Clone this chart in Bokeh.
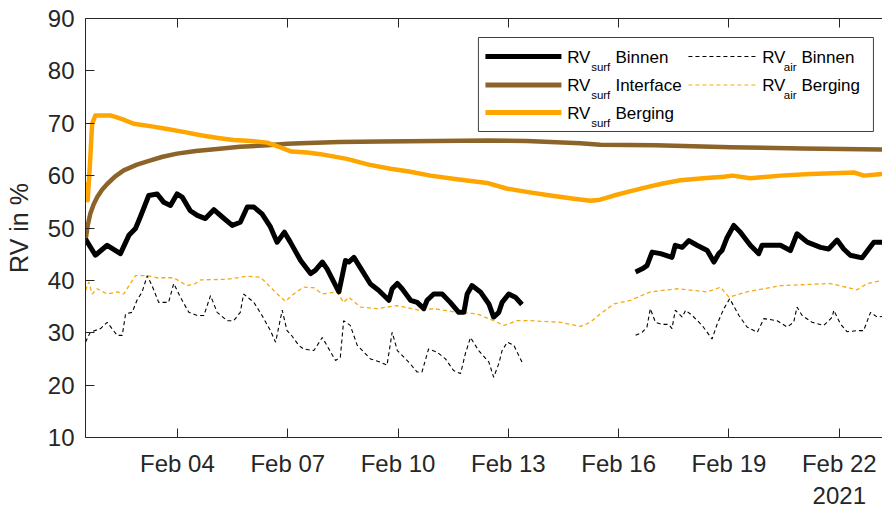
import math
import pandas as pd
from bokeh.plotting import figure
from bokeh.models import Range1d, FixedTicker, DatetimeTickFormatter, DatetimeAxis
from bokeh.core.properties import value
from bokeh.embed import file_html
from bokeh.resources import INLINE

NAN = float("nan")

# Day of February 2021 (fractional) and relative humidity in %
surf_binnen_day = [1.50, 1.77, 2.09, 2.45, 2.68, 2.86, 2.99, 3.22, 3.45, 3.63, 3.81, 3.99, 4.13,
                   4.35, 4.54, 4.76, 4.99, 5.22, 5.49, 5.71, 5.90, 6.08, 6.30, 6.53, 6.71, 6.91,
                   7.07, 7.35, 7.62, 7.75, 7.94, 8.07, 8.39, 8.57, 8.66, 8.80, 9.02, 9.25, 9.47,
                   9.75, 9.84, 9.98, 10.11, 10.34, 10.52, 10.70, 10.79, 10.97, 11.20, 11.42, 11.65,
                   11.79, 11.88, 12.01, 12.24, 12.47, 12.60, 12.74, 12.83, 13.01, 13.19, 13.37,
                   14.90,
                   16.46, 16.64, 16.77, 16.91, 17.14, 17.45, 17.54, 17.73, 17.91, 18.13, 18.41,
                   18.59, 18.72, 18.81, 18.95, 19.13, 19.31, 19.58, 19.81, 19.90, 20.40, 20.67,
                   20.85, 21.13, 21.49, 21.71, 21.94, 22.12, 22.30, 22.62, 22.80, 22.94, 23.17]
surf_binnen_rv = [47.9, 44.8, 46.7, 45.1, 48.6, 49.9, 52.1, 56.2, 56.5, 54.9, 54.3, 56.5, 55.9,
                  53.3, 52.4, 51.8, 53.5, 52.1, 50.5, 51.1, 54.0, 54.0, 52.7, 50.2, 47.3, 49.2,
                  47.3, 43.8, 41.3, 41.9, 43.5, 42.2, 37.8, 43.8, 43.5, 44.4, 41.9, 39.3, 38.1,
                  36.2, 38.4, 39.4, 38.4, 36.2, 35.8, 34.6, 36.2, 37.4, 37.4, 35.8, 33.9,
                  33.9, 37.4, 39.0, 37.8, 35.5, 33.0, 33.9, 35.8, 37.4, 36.8, 35.4,
                  NAN,
                  41.6, 42.2, 42.8, 45.4, 45.1, 44.4, 46.7, 46.3, 47.6, 46.7, 45.7,
                  43.5, 45.1, 45.7, 48.2, 50.5, 49.2, 46.7, 45.1, 46.7, 46.7, 45.7,
                  48.9, 47.3, 46.3, 46.0, 47.7, 46.0, 44.8, 44.3, 46.0, 47.3, 47.3]

surf_interface_day = [1.50, 1.56, 1.63, 1.72, 1.82, 1.95, 2.09, 2.30, 2.54, 2.90, 3.27, 3.60,
                      3.99, 4.50, 5.08, 5.70, 6.44, 7.00, 7.35, 8.40, 9.52, 11.00, 12.42, 13.50,
                      14.96, 15.50, 17.00, 19.04, 21.00, 23.17]
surf_interface_rv = [47.6, 50.5, 52.7, 54.5, 55.9, 57.3, 58.4, 59.8, 61.0, 62.1, 62.9, 63.6,
                     64.2, 64.7, 65.1, 65.5, 65.8, 66.1, 66.2, 66.4, 66.5, 66.6, 66.7, 66.6,
                     66.2, 65.9, 65.8, 65.4, 65.2, 65.0]

surf_berging_day = [1.52, 1.56, 1.62, 1.68, 1.77, 2.18, 2.50, 2.81, 3.30, 3.72, 4.20, 4.63,
                    5.10, 5.53, 6.00, 6.44, 6.80, 7.10, 7.53, 7.89, 8.61, 9.20, 9.79, 10.30,
                    10.88, 11.60, 12.42, 12.97, 13.50, 14.05, 14.78, 15.23, 15.50, 15.87, 16.30,
                    16.77, 17.20, 17.68, 18.30, 18.86, 19.10, 19.58, 20.40, 21.20, 22.03, 22.40,
                    22.67, 23.17]
surf_berging_rv = [58.8, 55.3, 62.0, 69.9, 71.5, 71.5, 70.8, 69.9, 69.4, 68.9, 68.3, 67.7,
                   67.2, 66.8, 66.6, 66.3, 65.4, 64.6, 64.4, 64.1, 63.2, 62.1, 61.3, 60.8,
                   60.0, 59.3, 58.6, 57.5, 56.9, 56.3, 55.6, 55.2, 55.4, 56.2, 57.0,
                   57.8, 58.5, 59.1, 59.5, 59.8, 60.0, 59.5, 60.0, 60.3, 60.5, 60.6,
                   60.0, 60.3]

air_binnen_day = [1.50, 1.63, 1.91, 2.09, 2.22, 2.36, 2.50, 2.59, 2.77, 2.90, 3.04, 3.18, 3.31,
                  3.49, 3.76, 3.90, 4.08, 4.31, 4.54, 4.72, 4.90, 5.08, 5.35, 5.53, 5.71, 5.80,
                  6.08, 6.30, 6.53, 6.67, 6.85, 6.98, 7.07, 7.30, 7.43, 7.71, 7.94, 8.30, 8.43,
                  8.52, 8.70, 8.89, 9.25, 9.52, 9.70, 9.84, 9.98, 10.29, 10.52, 10.65, 10.83,
                  11.06, 11.29, 11.51, 11.70, 11.83, 11.97, 12.19, 12.47, 12.60, 12.74, 12.83,
                  12.97, 13.15, 13.37,
                  14.90,
                  16.46, 16.64, 16.77, 16.86, 17.00, 17.18, 17.36, 17.45, 17.54, 17.73, 17.82,
                  18.00, 18.27, 18.54, 18.68, 18.86, 19.02, 19.27, 19.49, 19.77, 19.95, 20.31,
                  20.58, 20.76, 20.85, 20.99, 21.26, 21.58, 21.81, 21.85, 22.03, 22.21, 22.48,
                  22.66, 22.85, 23.03, 23.17]
air_binnen_rv = [28.2, 30.1, 30.8, 32.0, 30.8, 29.5, 29.5, 33.6, 33.9, 36.2, 37.8, 40.9, 39.0,
                 35.8, 35.8, 39.4, 36.8, 33.9, 33.3, 33.3, 37.1, 33.9, 32.3, 32.3, 33.9, 37.4,
                 35.8, 33.3, 30.4, 28.2, 34.3, 30.4, 29.8, 27.6, 26.9, 26.6, 29.1, 24.7, 25.3,
                 32.3, 31.4, 27.6, 25.0, 24.4, 23.8, 30.1, 26.6, 24.4, 22.5, 22.5, 26.9,
                 26.3, 25.0, 22.8, 22.2, 26.0, 29.1, 26.6, 24.4, 21.5, 24.1, 26.6,
                 28.2, 27.6, 24.4,
                 NAN,
                 29.5, 30.1, 31.1, 34.6, 32.0, 31.6, 31.6, 30.8, 34.3, 33.0, 34.3,
                 33.3, 31.4, 28.8, 31.7, 34.6, 36.5, 33.3, 31.1, 30.1, 32.7, 32.3,
                 31.1, 32.0, 34.9, 33.3, 32.0, 31.4, 33.0, 34.3, 31.7, 30.2, 30.4,
                 30.4, 33.9, 33.0, 33.1]

air_berging_day = [1.50, 1.59, 1.68, 1.82, 2.09, 2.36, 2.54, 2.72, 2.86, 3.18, 3.45, 3.90, 4.26,
                   4.49, 4.63, 5.35, 5.90, 6.26, 6.53, 6.80, 6.94, 7.16, 7.43, 7.71, 7.94, 8.34,
                   8.52, 8.66, 8.98, 9.43, 9.98, 10.56, 10.97, 11.61, 12.15, 12.60, 12.88, 13.24,
                   13.60, 14.42, 14.96, 15.23, 15.50, 15.87, 16.32, 16.86, 17.59, 18.41, 18.77,
                   19.00, 19.49, 20.40, 21.76, 22.48, 22.76, 23.17]
air_berging_rv = [38.1, 39.7, 37.4, 38.4, 37.4, 37.8, 37.4, 39.4, 40.9, 40.9, 40.5, 40.5, 39.0,
                  39.4, 40.1, 40.2, 40.8, 40.6, 38.7, 36.8, 36.0, 37.4, 38.7, 38.6, 37.4, 37.8,
                  35.8, 36.8, 34.9, 34.6, 35.2, 34.3, 34.6, 33.9, 33.6, 32.3, 31.4, 32.3,
                  32.3, 32.0, 31.2, 32.0, 33.6, 35.5, 36.2, 37.8, 38.4, 37.8, 38.7,
                  36.8, 37.8, 39.0, 39.4, 38.2, 39.4, 40.0]

tick_days = [4, 7, 10, 13, 16, 19, 22]

BASE = pd.Timestamp("2021-01-31")


def to_time(days):
    return [BASE + pd.Timedelta(days=d) for d in days]


def to_ms(d):
    return (BASE + pd.Timedelta(days=d)).value / 1e6


FONT = "Liberation Sans"
AXIS_GREY = "#262626"
BLACK = "#000000"
BROWN = "#8C642A"
ORANGE = "#FFA500"
ORANGE_THIN = "#F5AA10"

x_start, x_end = 1.5, 23.175
p = figure(width=882, height=511, x_axis_type="datetime",
           x_range=Range1d(to_ms(x_start), to_ms(x_end)), y_range=Range1d(10, 90),
           output_backend="svg", toolbar_location=None,
           min_border_left=85, min_border_right=0, min_border_top=18, min_border_bottom=74,
           background_fill_color="white", border_fill_color="white")
p.outline_line_color = None
p.grid.visible = False

# Series
p.line(to_time(air_binnen_day), air_binnen_rv, line_color=BLACK, line_width=1.1, line_dash="4 3")
p.line(to_time(air_berging_day), air_berging_rv, line_color=ORANGE_THIN, line_width=1.3, line_dash="4 3")
p.line(to_time(surf_interface_day), surf_interface_rv, line_color=BROWN, line_width=4.5, line_join="round")
p.line(to_time(surf_berging_day), surf_berging_rv, line_color=ORANGE, line_width=4.5, line_join="round")
p.line(to_time(surf_binnen_day), surf_binnen_rv, line_color=BLACK, line_width=5, line_join="round")

# Axes
x_ticker = FixedTicker(ticks=[to_ms(d) for d in tick_days])
fmt = DatetimeTickFormatter(days="%b %d", months="%b %d", hours="%b %d", years="%b %d",
                            context="%Y", context_which="end")
xa = p.xaxis[0]
xa.ticker = x_ticker
xa.formatter = fmt
ya = p.yaxis[0]
ya.ticker = FixedTicker(ticks=[10, 20, 30, 40, 50, 60, 70, 80, 90])
ya.axis_label = "RV in %"
ya.axis_label_text_font = FONT
ya.axis_label_text_font_size = "25px"
ya.axis_label_text_font_style = "normal"
ya.axis_label_text_color = AXIS_GREY
ya.axis_label_standoff = 12
for ax in (xa, ya):
    ax.major_label_text_font = FONT
    ax.major_label_text_font_size = "24px"
    ax.major_label_text_color = AXIS_GREY
    ax.axis_line_color = AXIS_GREY
    ax.major_tick_line_color = AXIS_GREY
    ax.major_tick_in = 9
    ax.major_tick_out = 0
    ax.minor_tick_line_color = None
ya.major_label_standoff = 11
xa.major_label_standoff = 12

top = DatetimeAxis(ticker=x_ticker, major_label_text_font_size="0px", major_label_text_alpha=0,
                   major_label_standoff=0, axis_line_color=AXIS_GREY, major_tick_line_color=AXIS_GREY,
                   major_tick_in=9, major_tick_out=0, minor_tick_line_color=None)
p.add_layout(top, "above")


# Legend drawn in plot coordinates
def px_day(x):
    return 4 + (x - 177) / 36.77


def px_val(y):
    return 90 - (y - 18) / 5.2375


def px_time(x):
    return BASE + pd.Timedelta(days=px_day(x))


p.quad(left=[px_time(478)], right=[px_time(873)], top=[px_val(37)], bottom=[px_val(131)],
       fill_color="white", line_color="#404040", line_width=1)

rows = [56, 84.5, 112]
p.segment(x0=[px_time(485)] * 3, x1=[px_time(561)] * 3,
          y0=[px_val(r) for r in rows], y1=[px_val(r) for r in rows],
          line_color=[BLACK, BROWN, ORANGE], line_width=5)
p.segment(x0=[px_time(688)] * 2, x1=[px_time(757)] * 2,
          y0=[px_val(r) for r in rows[:2]], y1=[px_val(r) for r in rows[:2]],
          line_color=[BLACK, ORANGE_THIN], line_width=1.1, line_dash="4 3")

main_x = [566.7, 566.7, 566.7, 761.7, 761.7]
sub_x = [590.7, 590.7, 590.7, 783.3, 783.3]
name_x = [615.0, 615.0, 615.0, 801.0, 801.0]
row_y = [rows[0], rows[1], rows[2], rows[0], rows[1]]
subs = ["surf", "surf", "surf", "air", "air"]
names = ["Binnen", "Interface", "Berging", "Binnen", "Berging"]

p.text(x=[px_time(v) for v in main_x], y=[px_val(r + 0.5) for r in row_y], text=["RV"] * 5,
       text_font=value(FONT), text_font_size="17px", text_color=BLACK, text_baseline="alphabetic")
p.text(x=[px_time(v) for v in sub_x], y=[px_val(r + 10) for r in row_y], text=subs,
       text_font=value(FONT), text_font_size="11.5px", text_color=BLACK, text_baseline="alphabetic")
p.text(x=[px_time(v) for v in name_x], y=[px_val(r + 0.5) for r in row_y], text=names,
       text_font=value(FONT), text_font_size="17px", text_color=BLACK, text_baseline="alphabetic")

open("out.html", "w").write(file_html(p, INLINE))
